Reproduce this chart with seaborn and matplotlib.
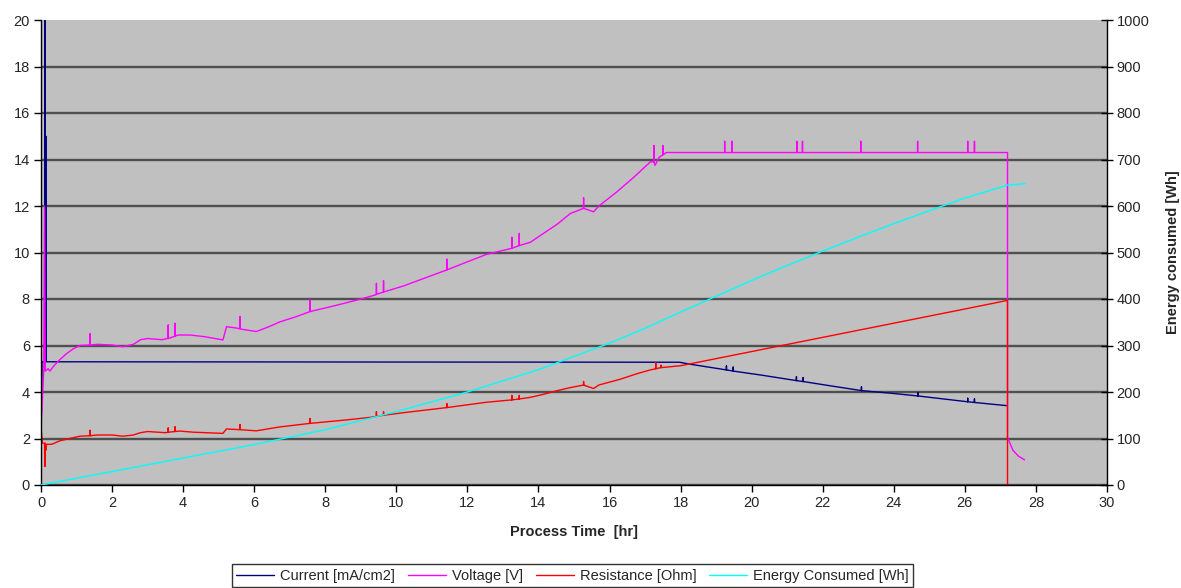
import numpy as np
import pandas as pd
import matplotlib
matplotlib.use('Agg')
import matplotlib.pyplot as plt
import seaborn as sns

# ---------------- data ----------------
# Current [mA/cm2]
current_time = [0.0, 0.01, 0.03, 0.10, 0.11, 0.12, 0.13, 0.14, 0.15, 17.97, 18.25, 19.29,
                20.30, 21.26, 22.20, 23.09, 23.90, 24.68, 25.40, 26.08, 27.20]
current_value = [2.7, 3.2, 5.3, 5.3, 22.0, 5.3, 7.8, 15.0, 5.3, 5.28, 5.20, 4.95,
                 4.72, 4.49, 4.27, 4.06, 3.95, 3.83, 3.70, 3.58, 3.41]
current_spike_time = [19.29, 19.48, 21.26, 21.45, 23.09, 24.68, 26.08, 26.27]
current_spike_base = [4.95, 4.90, 4.49, 4.45, 4.06, 3.83, 3.58, 3.55]
current_spike_peak = [5.12, 5.07, 4.66, 4.62, 4.22, 3.98, 3.73, 3.70]

# Voltage [V]
voltage_time = [0.0, 0.08, 0.10, 0.12, 0.20, 0.25, 0.35, 0.50, 0.72, 0.90, 1.10, 1.60,
                2.00, 2.30, 2.60, 2.80, 3.00, 3.40, 3.55, 3.85, 4.20, 4.60, 5.12, 5.22,
                5.50, 5.65, 6.06, 6.40, 6.73, 7.20, 7.57, 8.10, 8.60, 9.00, 9.40, 10.20,
                10.80, 11.42, 12.00, 12.54, 13.25, 13.77, 14.14, 14.53, 14.90, 15.27, 15.55,
                15.70, 16.20, 16.70, 17.15, 17.28, 17.40, 17.60, 27.20, 27.20, 27.35, 27.50,
                27.68]
voltage_value = [2.4, 5.0, 12.0, 4.9, 5.0, 4.9, 5.1, 5.35, 5.65, 5.85, 6.0, 6.05,
                 6.02, 5.95, 6.05, 6.25, 6.3, 6.25, 6.3, 6.45, 6.45, 6.38, 6.24, 6.81,
                 6.75, 6.7, 6.6, 6.8, 7.02, 7.25, 7.46, 7.65, 7.84, 8.0, 8.17, 8.56,
                 8.9, 9.25, 9.6, 9.92, 10.18, 10.44, 10.82, 11.22, 11.68, 11.9, 11.75,
                 12.0, 12.6, 13.26, 13.9, 13.75, 14.1, 14.3, 14.3, 2.05, 1.5, 1.25,
                 1.08]
voltage_spike_time = [1.38, 3.58, 3.77, 5.60, 7.57, 9.44, 9.64, 11.42, 13.25, 13.46, 15.27,
                      17.25, 17.50, 19.24, 19.44, 21.27, 21.43, 23.07, 24.67, 26.08, 26.27]
voltage_spike_base = [6.02, 6.30, 6.40, 6.72, 7.46, 8.20, 8.30, 9.25, 10.18, 10.30, 11.90,
                      13.90, 14.20, 14.3, 14.3, 14.3, 14.3, 14.3, 14.3, 14.3, 14.3]
voltage_spike_peak = [6.50, 6.88, 6.95, 7.24, 7.96, 8.67, 8.79, 9.71, 10.65, 10.82, 12.35,
                      14.60, 14.60, 14.78, 14.78, 14.78, 14.78, 14.78, 14.78, 14.78, 14.78]

# Resistance [Ohm]
resistance_time = [0.0, 0.0, 0.04, 0.10, 0.11, 0.12, 0.14, 0.15, 0.30, 0.53, 0.80, 1.10,
                   1.60, 2.00, 2.30, 2.60, 2.80, 3.00, 3.50, 3.90, 4.30, 5.12, 5.22, 6.06,
                   6.73, 7.57, 8.60, 9.27, 10.20, 11.42, 12.54, 13.25, 13.77, 14.14, 14.53,
                   14.90, 15.27, 15.55, 15.70, 16.30, 16.80, 17.15, 17.60, 18.00, 20.00,
                   22.00, 24.00, 26.00, 27.20, 27.20]
resistance_value = [0.0, 2.5, 1.8, 1.8, 0.8, 1.8, 1.5, 1.75, 1.75, 1.9, 2.0, 2.1,
                    2.15, 2.15, 2.1, 2.15, 2.25, 2.3, 2.25, 2.32, 2.27, 2.22, 2.41, 2.33,
                    2.5, 2.65, 2.8, 2.91, 3.11, 3.33, 3.56, 3.66, 3.77, 3.9, 4.06,
                    4.19, 4.3, 4.15, 4.3, 4.55, 4.8, 4.95, 5.07, 5.13, 5.74,
                    6.35, 6.96, 7.57, 7.94, 0.0]
resistance_spike_time = [1.38, 3.58, 3.77, 5.60, 7.57, 9.44, 9.64, 11.42, 13.25, 13.46,
                         15.27, 17.30, 17.45]
resistance_spike_base = [2.12, 2.27, 2.30, 2.38, 2.65, 2.95, 3.00, 3.33, 3.66, 3.70,
                         4.30, 5.00, 5.05]
resistance_spike_peak = [2.35, 2.45, 2.50, 2.60, 2.86, 3.15, 3.15, 3.50, 3.85, 3.85,
                         4.45, 5.25, 5.15]

# Energy Consumed [Wh]
energy_time = [0, 2, 4, 6, 8, 10, 12, 14, 16, 17, 18, 19, 20, 21, 22, 23, 24, 25, 26,
               27.2, 27.7]
energy_value = [0, 29, 58, 87, 119, 158, 200, 248, 305, 337, 372, 406, 440, 472, 503,
                533, 562, 590, 617, 645, 648]

x_ticks = list(range(0, 31, 2))
y_ticks = list(range(0, 21, 2))
y2_ticks = list(range(0, 1001, 100))

labels = ["Current [mA/cm2]", "Voltage [V]", "Resistance [Ohm]", "Energy Consumed [Wh]"]
colors = ["#000080", "#FF00FF", "#FF0000", "#00FFFF"]


def build(t, v, st=None, sb=None, sp=None):
    rows = [(ti, 0, i, vi) for i, (ti, vi) in enumerate(zip(t, v))]
    if st:
        for j, (ti, b, p) in enumerate(zip(st, sb, sp)):
            rows += [(ti, 1, 3 * j, b), (ti, 1, 3 * j + 1, p), (ti, 1, 3 * j + 2, b)]
    rows.sort(key=lambda r: (r[0], r[1], r[2]))
    return pd.DataFrame({"t": [r[0] for r in rows], "v": [r[3] for r in rows]})


df_cur = build(current_time, current_value, current_spike_time, current_spike_base, current_spike_peak)
df_vol = build(voltage_time, voltage_value, voltage_spike_time, voltage_spike_base, voltage_spike_peak)
df_res = build(resistance_time, resistance_value, resistance_spike_time, resistance_spike_base, resistance_spike_peak)
df_en = build(energy_time, energy_value)

# ---------------- figure ----------------
sns.set_style("white")
plt.rcParams["font.family"] = ["Liberation Sans", "DejaVu Sans"]

W, H = 1181, 588
fig = plt.figure(figsize=(W / 100, H / 100), dpi=100)
x0, x1, y0, y1 = 41, 1107, 485, 20
ax = fig.add_axes([x0 / W, 1 - y0 / H, (x1 - x0) / W, (y0 - y1) / H])
ax.set_facecolor("#C0C0C0")

lw = 1.0
sns.lineplot(data=df_cur, x="t", y="v", sort=False, estimator=None, color=colors[0],
             lw=lw, ax=ax, label=labels[0])
sns.lineplot(data=df_vol, x="t", y="v", sort=False, estimator=None, color=colors[1],
             lw=lw, ax=ax, label=labels[1])
sns.lineplot(data=df_res, x="t", y="v", sort=False, estimator=None, color=colors[2],
             lw=lw, ax=ax, label=labels[2])

ax2 = ax.twinx()
sns.lineplot(data=df_en, x="t", y="v", sort=False, estimator=None, color=colors[3],
             lw=lw, ax=ax2, label=labels[3])

ax.set_xlim(0, 30)
ax.set_ylim(0, 20)
ax2.set_ylim(0, 1000)
ax.set_xticks(x_ticks)
ax.set_yticks(y_ticks)
ax2.set_yticks(y2_ticks)

ax.yaxis.grid(True, color="#505050", lw=1.7)
ax.xaxis.grid(False)
ax.set_axisbelow(True)
ax2.grid(False)

for a in (ax, ax2):
    for s in a.spines.values():
        s.set_color("black")
        s.set_linewidth(1.0)
    a.spines["top"].set_visible(False)
ax2.spines["left"].set_visible(False)
ax2.spines["bottom"].set_visible(False)
ax.spines["right"].set_visible(False)

ax.tick_params(axis="both", direction="out", length=5, width=1, color="black",
               labelsize=10.5, pad=3, left=True, bottom=True)
ax2.tick_params(axis="y", direction="inout", length=8, width=1, color="black",
                labelsize=10.5, pad=3, right=True)

ax.set_xlabel("Process Time  [hr]", fontsize=10.5, fontweight="bold", labelpad=11)
ax.set_ylabel("")
ax2.set_ylabel("Energy consumed [Wh]", fontsize=10.5, fontweight="bold", labelpad=12)

h1, l1 = ax.get_legend_handles_labels()
h2, l2 = ax2.get_legend_handles_labels()
for a in (ax, ax2):
    if a.get_legend() is not None:
        a.get_legend().remove()

fig.canvas.draw()
gl = ax.get_ygridlines()
if gl:
    gl[-1].set_visible(False)

leg = fig.legend(h1 + h2, l1 + l2, loc="lower center", bbox_to_anchor=(572.5 / W, 1 / H),
                 ncol=4, frameon=True, fancybox=False, edgecolor="black", fontsize=10.5,
                 handlelength=2.6, handletextpad=0.4, columnspacing=0.9, borderpad=0.3,
                 borderaxespad=0.0)
leg.get_frame().set_linewidth(1.0)

fig.savefig("out.png", dpi=100, facecolor="white")
